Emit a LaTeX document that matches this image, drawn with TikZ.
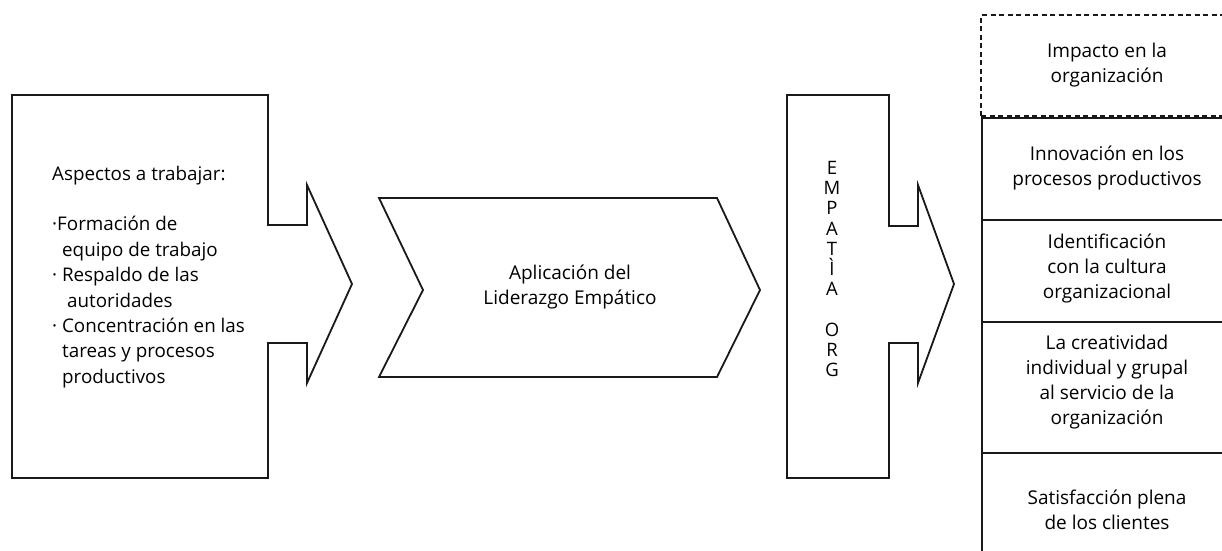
\documentclass[tikz,border=0pt]{standalone}
\usepackage{fontspec}
\setmainfont{Open Sans}
\begin{document}
\begin{tikzpicture}[x=1pt,y=-1pt,
  shapeline/.style={draw=black!90,line width=1.8pt,line join=miter},
  dashline/.style={draw=black!90,line width=1.6pt,dash pattern=on 5pt off 3.5pt},
  txt/.style={inner sep=0pt,align=center,font={\fontsize{19}{25}\selectfont},text=black},
  ltxt/.style={inner sep=0pt,align=left,font={\fontsize{18.8}{25.4}\selectfont},text=black},
  vtxt/.style={inner sep=0pt,align=center,font={\fontsize{18.5}{20.2}\selectfont},text=black}]
\useasboundingbox (0,0) rectangle (1222,550);
\clip (0,0) rectangle (1222,550);
% left arrow box
\draw[shapeline] (12,95) -- (268,95) -- (268,225) -- (307,225) -- (307,185) -- (352,284)
  -- (307,383) -- (307,343) -- (268,343) -- (268,478) -- (12,478) -- cycle;
\node[ltxt,anchor=west] (aspectos) at (52,277) {Aspectos a trabajar:\\[25pt]
·Formación de\\
\hspace*{10pt}equipo de trabajo\\
· Respaldo de las\\
\hspace*{15pt}autoridades\\
· Concentración en las\\
\hspace*{10pt}tareas y procesos\\
\hspace*{10pt}productivos};
% chevron
\draw[shapeline] (379,198) -- (717,198) -- (760,290) -- (717,377) -- (379,377) -- (423,290) -- cycle;
\node[txt] (aplic) at (570,287) {Aplicación del\\Liderazgo Empático};
% empatia box
\draw[shapeline] (787,95) -- (889,95) -- (889,226) -- (918,226) -- (918,185) -- (954,284)
  -- (918,383) -- (918,343) -- (889,343) -- (889,478) -- (787,478) -- cycle;
\node[vtxt] (empatia) at (832,269) {E\\M\\P\\A\\T\\Ì\\A\\[20.2pt]O\\R\\G};
% right column
\draw[dashline] (981,116) -- (981,15) -- (1240,15);
\draw[dashline] (981,116) -- (1240,116);
\draw[shapeline] (982,118) rectangle (1240,220);
\draw[shapeline] (982,220) rectangle (1240,322);
\draw[shapeline] (982,322) rectangle (1240,453);
\draw[shapeline] (982,453) rectangle (1240,580);
\node[txt] (impacto) at (1107,65.5) {Impacto en la\\organización};
\node[txt] (innov) at (1107,168) {Innovación en los\\procesos productivos};
\node[txt] (ident) at (1107,268) {Identificación\\con la cultura\\organizacional};
\node[txt] (creat) at (1107,382.5) {La creatividad\\individual y grupal\\al servicio de la\\organización};
\node[txt] (satis) at (1107,510) {Satisfacción plena\\de los clientes};
\end{tikzpicture}
\end{document}
